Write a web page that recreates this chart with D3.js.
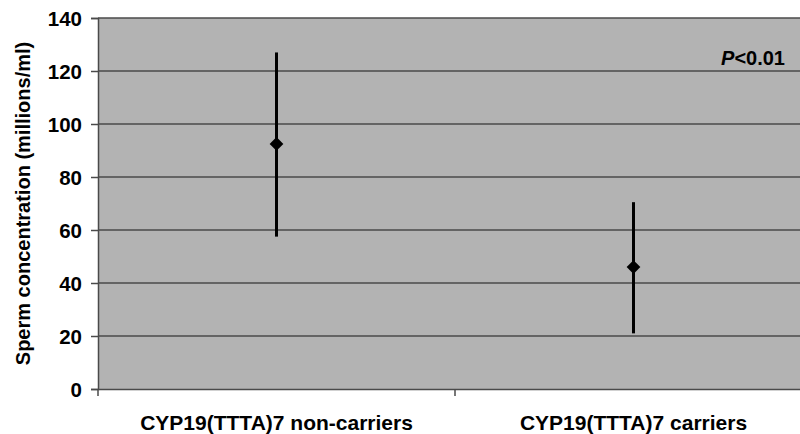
<!DOCTYPE html>
<html>
<head>
<meta charset="utf-8">
<script src="https://cdn.jsdelivr.net/npm/d3@7"></script>
<style>
  body { margin: 0; background: #fff; }
  svg { display: block; font-family: "Liberation Sans", Arial, sans-serif; }
</style>
</head>
<body>
<svg id="chart" width="800" height="434"></svg>
<script>
// data
var groups = ["CYP19(TTTA)7 non-carriers", "CYP19(TTTA)7 carriers"];
var means  = [92.5, 46];
var lows   = [57.5, 21];
var highs  = [127, 70.5];
var yTicks = [0, 20, 40, 60, 80, 100, 120, 140];

var svg = d3.select("#chart"),
    margin = {top: 18, right: -12, bottom: 45, left: 98},
    width = 800 - margin.left - margin.right,
    height = 434 - margin.top - margin.bottom;

var x = d3.scaleBand().domain(groups).range([0, width]);
var y = d3.scaleLinear().domain([0, 140]).range([height, 0]);

var g = svg.append("g")
  .attr("transform", "translate(" + margin.left + "," + margin.top + ")");

// gray plot area
g.append("rect")
  .attr("x", 0).attr("y", 0)
  .attr("width", width).attr("height", height)
  .style("fill", "#b3b3b3");

// gridlines
g.selectAll(".grid")
  .data(yTicks.filter(function(d) { return d > 0; }))
  .enter().append("line")
  .attr("class", "grid")
  .attr("x1", 0).attr("x2", width)
  .attr("y1", function(d) { return y(d); })
  .attr("y2", function(d) { return y(d); })
  .style("stroke", "#4a4a4a")
  .style("stroke-width", 1.5);

// y axis
var yAxis = g.append("g")
  .call(d3.axisLeft(y).tickValues(yTicks).tickSize(7).tickPadding(9));
yAxis.select(".domain").style("stroke", "#4a4a4a").style("stroke-width", 1.5);
yAxis.selectAll(".tick line").style("stroke", "#4a4a4a").style("stroke-width", 1.5);
yAxis.selectAll("text")
  .style("font-size", "20.5px").style("font-weight", "bold")
  .style("fill", "#000").attr("dy", "0.35em");

// x axis
var xAxis = g.append("g")
  .attr("transform", "translate(0," + height + ")")
  .call(d3.axisBottom(x).tickSize(0).tickPadding(0));
xAxis.select(".domain").style("stroke", "#4a4a4a").style("stroke-width", 1.5);
xAxis.selectAll("text")
  .attr("y", 41).attr("dy", null)
  .style("font-size", "21px").style("font-weight", "bold").style("fill", "#000");

// category separators
var seps = [0].concat(groups.map(function(d) { return x(d) + x.bandwidth(); }));
g.selectAll(".sep")
  .data(seps)
  .enter().append("line")
  .attr("class", "sep")
  .attr("x1", function(d) { return d; }).attr("x2", function(d) { return d; })
  .attr("y1", height).attr("y2", height + 7)
  .style("stroke", "#4a4a4a")
  .style("stroke-width", 1.5);

// error bars
g.selectAll(".err")
  .data(groups)
  .enter().append("line")
  .attr("class", "err")
  .attr("x1", function(d) { return x(d) + x.bandwidth() / 2; })
  .attr("x2", function(d) { return x(d) + x.bandwidth() / 2; })
  .attr("y1", function(d, i) { return y(lows[i]); })
  .attr("y2", function(d, i) { return y(highs[i]); })
  .style("stroke", "#000")
  .style("stroke-width", 3);

// mean diamonds
g.selectAll(".mean")
  .data(groups)
  .enter().append("path")
  .attr("class", "mean")
  .attr("d", d3.symbol().type(d3.symbolDiamond2).size(120))
  .attr("transform", function(d, i) {
    return "translate(" + (x(d) + x.bandwidth() / 2) + "," + y(means[i]) + ")";
  })
  .style("fill", "#000");

// y title
svg.append("text")
  .attr("transform", "translate(23," + (margin.top + height / 2) + ") rotate(-90)")
  .attr("text-anchor", "middle")
  .attr("dy", "0.35em")
  .style("font-size", "20px").style("font-weight", "bold")
  .text("Sperm concentration (millions/ml)");

// p value
var p = svg.append("text")
  .attr("x", 785).attr("y", 65)
  .attr("text-anchor", "end")
  .style("font-size", "20px").style("font-weight", "bold");
p.append("tspan").style("font-style", "italic").text("P");
p.append("tspan").text("<0.01");
</script>
</body>
</html>
